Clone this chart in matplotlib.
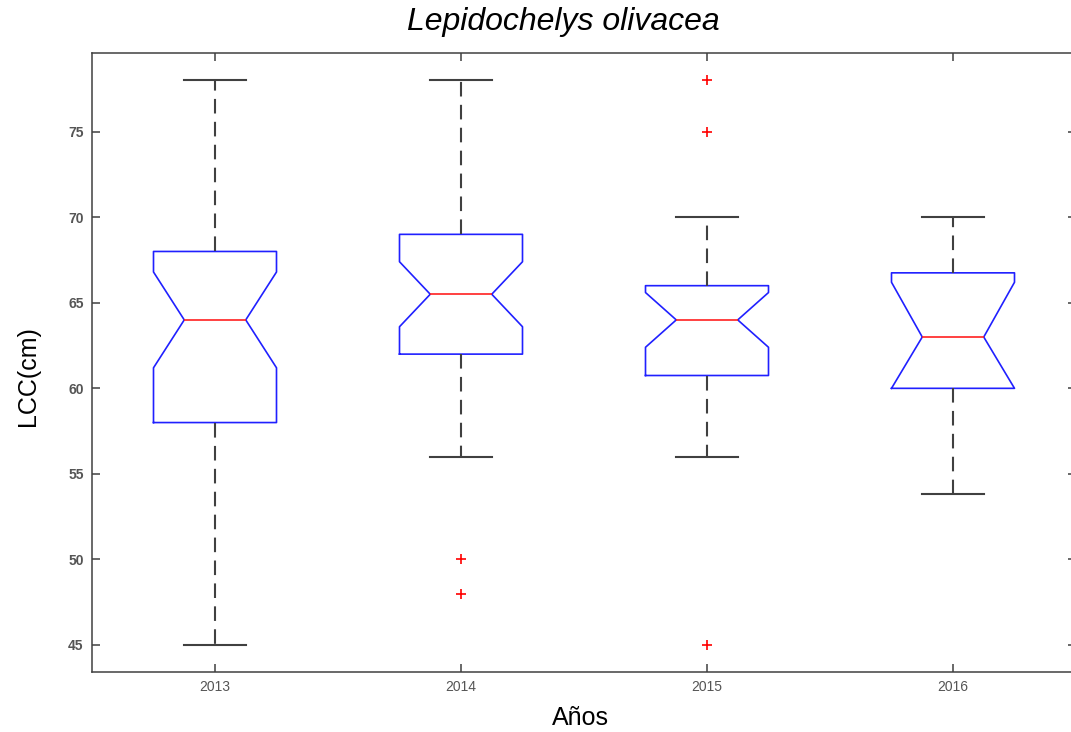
import matplotlib
matplotlib.use("Agg")
import matplotlib.pyplot as plt

plt.rcParams['font.family'] = ['Liberation Sans', 'DejaVu Sans']

years = ["2013", "2014", "2015", "2016"]
q1 = [58.0, 62.0, 60.75, 60.0]
med = [64.0, 65.5, 64.0, 63.0]
q3 = [68.0, 69.0, 66.0, 66.75]
whislo = [45.0, 56.0, 56.0, 53.8]
whishi = [78.0, 78.0, 70.0, 70.0]
cilo = [61.2, 63.6, 62.4, 60.0]
cihi = [66.8, 67.4, 65.6, 66.2]
fliers = [[], [50.0, 48.0], [78.0, 75.0, 45.0], []]

stats = []
for i in range(len(years)):
    stats.append(dict(label=years[i], q1=q1[i], med=med[i], q3=q3[i],
                      whislo=whislo[i], whishi=whishi[i],
                      cilo=cilo[i], cihi=cihi[i], fliers=fliers[i]))

fig = plt.figure(figsize=(10.71, 7.32), dpi=100)
ax = fig.add_axes([92/1071, 1 - 672/732, (1076 - 92)/1071, (672 - 53)/732])

gray = '#404040'
ax.bxp(stats, positions=[1, 2, 3, 4], widths=0.5, shownotches=True,
       boxprops=dict(color='#2020ff', linewidth=1.2),
       medianprops=dict(color='#ff2020', linewidth=1.2),
       whiskerprops=dict(color=gray, linewidth=1.5, linestyle=(0, (7.0, 4.0))),
       capprops=dict(color=gray, linewidth=1.5),
       flierprops=dict(marker='+', markeredgecolor='red', markersize=7,
                       markeredgewidth=1.2, linestyle='none'),
       manage_ticks=False)

ax.set_xlim(0.5, 4.5)
ax.set_ylim(43.42, 79.6)
ax.set_xticks([1, 2, 3, 4])
ax.set_xticklabels(years)
ax.set_yticks([45, 50, 55, 60, 65, 70, 75])

for s in ax.spines.values():
    s.set_color(gray)
    s.set_linewidth(1.1)

ax.tick_params(direction='in', length=6, width=1.1, color=gray,
               top=True, right=True, labelsize=10, labelcolor='#555555', pad=6)
for lab in ax.get_yticklabels():
    lab.set_fontweight('bold')

fig.text(563/1071, 1 - 22/732, 'Lepidochelys olivacea', fontsize=23, style='italic',
         ha='center', va='center', color='black')
fig.text(580/1071, 1 - 718/732, 'Años', fontsize=18, ha='center', va='center')
fig.text(28/1071, 1 - 376/732, 'LCC(cm)', fontsize=18, ha='center', va='center',
         rotation=90)

fig.savefig('out.png', dpi=100)
